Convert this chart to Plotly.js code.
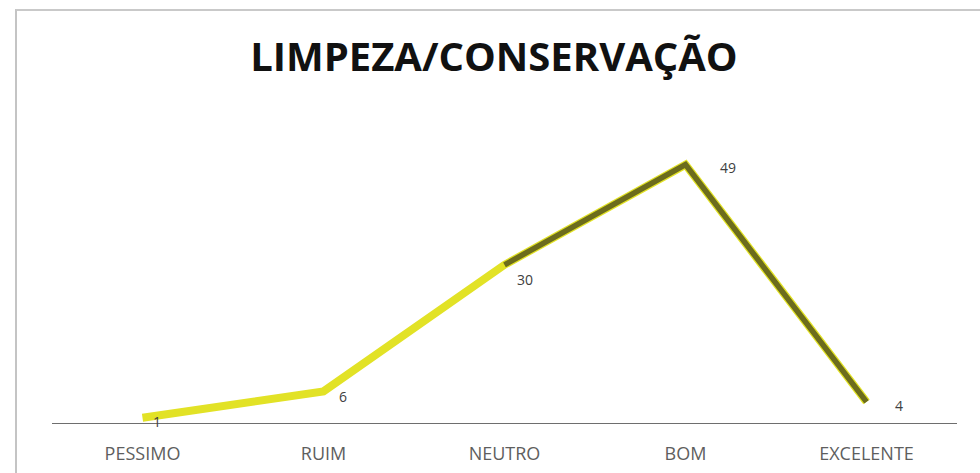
<!DOCTYPE html>
<html>
<head>
<meta charset="utf-8">
<script src="https://cdn.plot.ly/plotly-3.0.1.min.js"></script>
<style>
  html, body { margin: 0; padding: 0; background: #ffffff; }
  #wrap { position: relative; width: 980px; height: 473px; overflow: hidden; }
  #chart { position: absolute; left: 0; top: 0; width: 980px; height: 473px; }
  #frame { position: absolute; left: 15px; top: 9px; width: 990px; height: 500px;
           border-left: 2px solid #c4c4c4; border-top: 2px solid #c9c9c9; pointer-events: none; }
</style>
</head>
<body>
<div id="wrap">
  <div id="chart"></div>
  <div id="frame"></div>
</div>
<script>
const categories = ["PESSIMO", "RUIM", "NEUTRO", "BOM", "EXCELENTE"];
const values = [1, 6, 30, 49, 4];
const chartTitle = "LIMPEZA/CONSERVAÇÃO";

const yellow = "#e2e226";
const olive = "#6c6c1c";

const traces = [
  {
    x: categories, y: values, type: "scatter", mode: "lines",
    line: { color: yellow, width: 8, shape: "linear" },
    hoverinfo: "skip", showlegend: false
  },
  {
    x: categories.slice(2), y: values.slice(2), type: "scatter", mode: "lines",
    line: { color: olive, width: 5.5 },
    hoverinfo: "skip", showlegend: false
  }
];

const labelShift = [14, 19, 20, 42, 32];
const labelYShift = [-4, -5, -15, -3, -4];
const annotations = categories.map((c, i) => ({
  x: c, y: values[i], xref: "x", yref: "y",
  text: String(values[i]), showarrow: false,
  xshift: labelShift[i], yshift: labelYShift[i],
  font: { family: "Open Sans, Arial, sans-serif", size: 14, color: "#404040" }
}));

const layout = {
  width: 980, height: 473,
  margin: { l: 52, r: 23, t: 133, b: 50 },
  paper_bgcolor: "#ffffff", plot_bgcolor: "#ffffff",
  title: {
    text: "<b>" + chartTitle + "</b>",
    x: 0.504, xanchor: "center", y: 0.88, yanchor: "middle",
    font: { family: "Open Sans, Arial, sans-serif", size: 40, color: "#111111" }
  },
  xaxis: {
    type: "category", range: [-0.5, 4.5],
    showline: true, linecolor: "#6e6e6e", linewidth: 1,
    showgrid: false, zeroline: false, ticks: "",
    tickfont: { family: "Open Sans, Arial, sans-serif", size: 18, color: "#5e5e5e" },
    ticklabelstandoff: 14
  },
  yaxis: {
    range: [0, 55], visible: false, showgrid: false, zeroline: false
  },
  annotations: annotations,
  showlegend: false
};

Plotly.newPlot("chart", traces, layout, { displayModeBar: false, staticPlot: true });
</script>
</body>
</html>
